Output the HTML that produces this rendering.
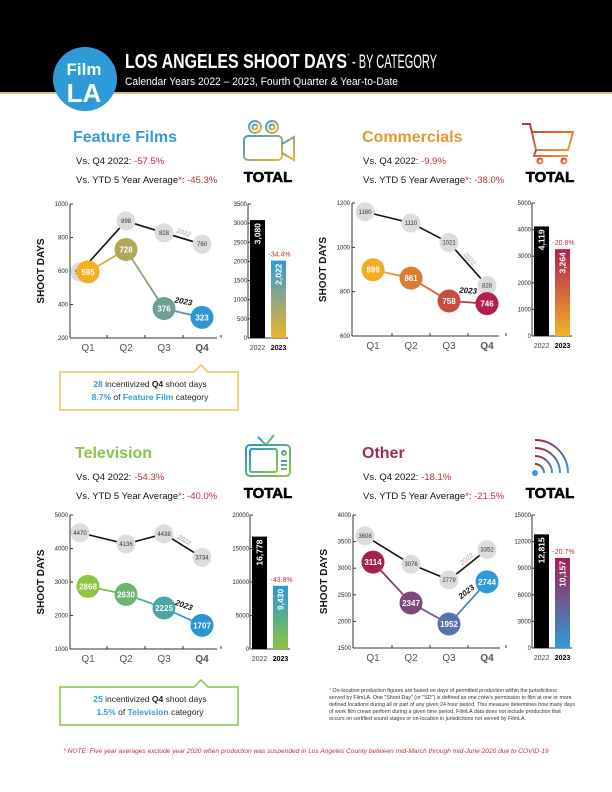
<!DOCTYPE html>
<html><head><meta charset="utf-8">
<style>
body{margin:0;background:#fff;}
svg{display:block;font-family:"Liberation Sans",sans-serif;}
.tk{font-size:6px;fill:#222;text-anchor:end;}
.q{font-size:10px;fill:#555;text-anchor:middle;}
</style></head>
<body>
<svg id="pg" width="612" height="792" viewBox="0 0 612 792" xmlns="http://www.w3.org/2000/svg">
<defs>
<linearGradient id="camG" x1="0" y1="0" x2="1" y2="1"><stop offset="0" stop-color="#3a9ad6"/><stop offset="1" stop-color="#f0b429"/></linearGradient>
<linearGradient id="cartG" x1="0" y1="0" x2="1" y2="1"><stop offset="0" stop-color="#c0294f"/><stop offset="1" stop-color="#f0a030"/></linearGradient>
<linearGradient id="tvG" x1="0" y1="0" x2="1" y2="1"><stop offset="0" stop-color="#2a94d6"/><stop offset="1" stop-color="#8cc63f"/></linearGradient>
<linearGradient id="wifiG" x1="0" y1="0" x2="1" y2="1"><stop offset="0" stop-color="#a61f4f"/><stop offset="1" stop-color="#2f9ad8"/></linearGradient>
</defs>
<rect x="0" y="0" width="612" height="92" fill="#000"/>
<rect x="0" y="92" width="612" height="2" fill="#d8c08a"/>
<g>
<circle cx="85" cy="79" r="32" fill="#2f9ad8"/>
<text x="84" y="75" font-size="17" font-weight="bold" fill="#fff" text-anchor="middle">Film</text>
<text x="84" y="102" font-size="26" font-weight="bold" fill="#fff" text-anchor="middle">LA</text>
</g>
<text x="125" y="68" font-size="20" font-weight="900" fill="#fff" textLength="222" lengthAdjust="spacingAndGlyphs">LOS ANGELES SHOOT DAYS</text>
<text x="347" y="59" font-size="8" fill="#2f9ad8">*</text>
<text x="352" y="68" font-size="19" fill="#fff" textLength="85" lengthAdjust="spacingAndGlyphs">- BY CATEGORY</text>
<text x="125" y="85" font-size="11" fill="#fff" textLength="273" lengthAdjust="spacingAndGlyphs">Calendar Years 2022 – 2023, Fourth Quarter &amp; Year-to-Date</text>

<g>
<text x="73" y="142" font-size="16" font-weight="bold" fill="#3a9ad6">Feature Films</text>
<text x="76" y="164" font-size="9.5" fill="#111">Vs. Q4 2022: <tspan fill="#c0303a">-57.5%</tspan></text>
<text x="76" y="183" font-size="9.5" fill="#111">Vs. YTD 5 Year Average<tspan fill="#c0303a">*</tspan>: <tspan fill="#c0303a">-45.3%</tspan></text>
</g>
<g>
<text x="362" y="142" font-size="16" font-weight="bold" fill="#e8962c">Commercials</text>
<text x="363" y="164" font-size="9.5" fill="#111">Vs. Q4 2022: <tspan fill="#c0303a">-9.9%</tspan></text>
<text x="363" y="183" font-size="9.5" fill="#111">Vs. YTD 5 Year Average<tspan fill="#c0303a">*</tspan>: <tspan fill="#c0303a">-38.0%</tspan></text>
</g>
<g>
<text x="75" y="458" font-size="16" font-weight="bold" fill="#8cc04a">Television</text>
<text x="76" y="480" font-size="9.5" fill="#111">Vs. Q4 2022: <tspan fill="#c0303a">-54.3%</tspan></text>
<text x="76" y="499" font-size="9.5" fill="#111">Vs. YTD 5 Year Average<tspan fill="#c0303a">*</tspan>: <tspan fill="#c0303a">-40.0%</tspan></text>
</g>
<g>
<text x="362" y="458" font-size="16" font-weight="bold" fill="#9b2a5a">Other</text>
<text x="363" y="480" font-size="9.5" fill="#111">Vs. Q4 2022: <tspan fill="#c0303a">-18.1%</tspan></text>
<text x="363" y="499" font-size="9.5" fill="#111">Vs. YTD 5 Year Average<tspan fill="#c0303a">*</tspan>: <tspan fill="#c0303a">-21.5%</tspan></text>
</g>

<g fill="none" stroke="url(#camG)" stroke-width="2">
<circle cx="255" cy="127" r="6"/><circle cx="255" cy="127" r="2.5"/>
<circle cx="272" cy="127" r="6"/><circle cx="272" cy="127" r="2.5"/>
<rect x="244" y="136" width="38" height="24" rx="4"/>
<path d="M282 144 L294 137 L294 160 L282 153"/>
</g>
<text x="268" y="182" font-size="15" font-weight="900" fill="#000" text-anchor="middle" stroke="#000" stroke-width="0.6">TOTAL</text>
<g fill="none" stroke="url(#cartG)" stroke-width="2">
<path d="M522 124 L530 124 L536 150 L568 150 L573 132 L532 132"/>
<path d="M536 150 L534 156 L568 156"/>
<circle cx="540" cy="161" r="2.5"/><circle cx="564" cy="161" r="2.5"/>
</g>
<text x="550" y="182" font-size="15" font-weight="900" fill="#000" text-anchor="middle" stroke="#000" stroke-width="0.6">TOTAL</text>
<g fill="none" stroke="url(#tvG)" stroke-width="2">
<path d="M258 437 L266 445 L274 435"/>
<rect x="246" y="445" width="44" height="31" rx="4"/>
<rect x="250" y="449" width="27" height="23" rx="2"/>
<circle cx="284" cy="453" r="2"/><path d="M281 461 H287 M281 465 H287 M281 469 H287"/>
</g>
<text x="268" y="498" font-size="15" font-weight="900" fill="#000" text-anchor="middle" stroke="#000" stroke-width="0.6">TOTAL</text>
<g fill="none" stroke="url(#wifiG)" stroke-width="2">
<circle cx="535" cy="473" r="3" fill="#2f9ad8" stroke="none"/>
<path d="M535 464 A9 9 0 0 1 544 473"/>
<path d="M535 456 A17 17 0 0 1 552 473"/>
<path d="M535 448 A25 25 0 0 1 560 473"/>
<path d="M535 440 A33 33 0 0 1 568 473"/>
</g>
<text x="550" y="498" font-size="15" font-weight="900" fill="#000" text-anchor="middle" stroke="#000" stroke-width="0.6">TOTAL</text>

<g>
<path d="M60 372 H194 L201 365 L208 372 H238 V410 H60 Z" fill="#fff" stroke="#f0c050" stroke-width="1.5"/>
<text x="150" y="387" font-size="8.5" text-anchor="middle" fill="#222"><tspan fill="#3a9ad6" font-weight="bold">28</tspan> incentivized <tspan font-weight="bold">Q4</tspan> shoot days</text>
<text x="150" y="400" font-size="8.5" text-anchor="middle" fill="#222"><tspan fill="#3a9ad6" font-weight="bold">8.7%</tspan> of <tspan fill="#3a9ad6" font-weight="bold">Feature Film</tspan> category</text>
</g>
<g>
<path d="M60 687 H194 L201 680 L208 687 H238 V725 H60 Z" fill="#fff" stroke="#8cc04a" stroke-width="1.5"/>
<text x="150" y="702" font-size="8.5" text-anchor="middle" fill="#222"><tspan fill="#3a9ad6" font-weight="bold">25</tspan> incentivized <tspan font-weight="bold">Q4</tspan> shoot days</text>
<text x="150" y="715" font-size="8.5" text-anchor="middle" fill="#222"><tspan fill="#3a9ad6" font-weight="bold">1.5%</tspan> of <tspan fill="#3a9ad6" font-weight="bold">Television</tspan> category</text>
</g>

<g font-size="5.3" fill="#333">
<text x="329" y="692"><tspan fill="#2f9ad8">*</tspan> On-location production figures are based on days of permitted production within the jurisdictions</text>
<text x="329" y="699">served by FilmLA. One "Shoot Day" (or "SD") is defined as one crew's permission to film at one or more</text>
<text x="329" y="706">defined locations during all or part of any given 24 hour period. This measure determines how many days</text>
<text x="329" y="713">of work film crews perform during a given time period. FilmLA data does not include production that</text>
<text x="329" y="720">occurs on certified sound stages or on-location in jurisdictions not served by FilmLA.</text>
</g>
<text x="306" y="753" font-size="6.6" font-style="italic" fill="#c0303a" text-anchor="middle">* NOTE: Five year averages exclude year 2020 when production was suspended in Los Angeles County between mid-March through mid-June 2020 due to COVID-19</text>
<g id="charts"></g>
</svg>
<script>
const quarters = ['Q1','Q2','Q3','Q4'];
const years = ['2022','2023'];
const featureTicks = [200,400,600,800,1000];
const feature2022 = [594,898,828,760];
const feature2023 = [595,728,376,323];
const featureTotalTicks = [0,500,1000,1500,2000,2500,3000,3500];
const featureTotals = [3080,2022];
const featureTotalLabels = ['3,080','2,022'];
const featureChange = '-34.4%';

const commTicks = [600,800,1000,1200];
const comm2022 = [1160,1110,1021,828];
const comm2023 = [899,861,758,746];
const commTotalTicks = [0,1000,2000,3000,4000,5000];
const commTotals = [4119,3264];
const commTotalLabels = ['4,119','3,264'];
const commChange = '-20.8%';

const tvTicks = [1000,2000,3000,4000,5000];
const tv2022 = [4470,4136,4438,3734];
const tv2023 = [2868,2630,2225,1707];
const tvTotalTicks = [0,5000,10000,15000,20000];
const tvTotals = [16778,9430];
const tvTotalLabels = ['16,778','9,430'];
const tvChange = '-43.8%';

const otherTicks = [1500,2000,2500,3000,3500,4000];
const other2022 = [3608,3076,2779,3352];
const other2023 = [3114,2347,1952,2744];
const otherTotalTicks = [0,3000,6000,9000,12000,15000];
const otherTotals = [12815,10157];
const otherTotalLabels = ['12,815','10,157'];
const otherChange = '-20.7%';

const NS='http://www.w3.org/2000/svg';
const root=document.getElementById('charts');
function el(tag,attrs,parent,txt){const e=document.createElementNS(NS,tag);for(const k in attrs)e.setAttribute(k,attrs[k]);if(txt!==undefined)e.textContent=txt;(parent||root).appendChild(e);return e;}
function mix(a,b,t){const pa=[1,3,5].map(i=>parseInt(a.substr(i,2),16)),pb=[1,3,5].map(i=>parseInt(b.substr(i,2),16));return 'rgb('+pa.map((v,i)=>Math.round(v+(pb[i]-v)*t)).join(',')+')';}

function draw(id,lay,ticks,d22,d23,tTicks,totals,tLabels,change,c1,c2,barTop,barBot){
  const g=el('g',{});
  
  
  const vMin=ticks[0],vMax=ticks[ticks.length-1];
  const y=v=>lay.yBot-(v-vMin)/(vMax-vMin)*(lay.yBot-lay.yTop);
  const qx=i=>lay.qx0+i*lay.qdx;
  const yt=el('text',{x:0,y:0,transform:`translate(${lay.x0-26},${(lay.yTop+lay.yBot)/2}) rotate(-90)`,'font-size':10,'font-weight':'bold','text-anchor':'middle',fill:'#111'},g,'SHOOT DAYS');
  
  
  el('line',{x1:lay.x0,y1:lay.yTop,x2:lay.x0,y2:lay.yBot,stroke:'#333','stroke-width':1},g);
  el('line',{x1:lay.x0,y1:lay.yBot,x2:lay.x0+4*lay.qdx-5,y2:lay.yBot,stroke:'#333','stroke-width':1},g);
  ticks.forEach(t=>{
    el('line',{x1:lay.x0,y1:y(t),x2:lay.x0+3,y2:y(t),stroke:'#333'},g);
    const tx=el('text',{x:lay.x0-2,y:y(t)+2,class:'tk'},g,t);
    
    
  });
  quarters.forEach((q,i)=>{
    el('line',{x1:qx(i)+lay.qdx/2,y1:lay.yBot,x2:qx(i)+lay.qdx/2,y2:lay.yBot-3,stroke:'#333'},g);
    const t=el('text',{x:qx(i),y:lay.yBot+13,class:'q','font-weight':i==3?'bold':'normal',fill:i==3?'#111':'#555'},g,q);
    
    
  });
  const p22=d22.map((v,i)=>`${qx(i)+(i==0?-8:0)},${y(v)}`).join(' ');
  const l22=el('polyline',{points:p22,fill:'none',stroke:'#111','stroke-width':1.6},g);
  
  
  const gid=id+'LG';
  const lg=el('linearGradient',{id:gid,gradientUnits:'userSpaceOnUse',x1:qx(0),y1:0,x2:qx(3),y2:0},g);
  el('stop',{offset:0,'stop-color':c1},lg);el('stop',{offset:1,'stop-color':c2},lg);
  const p23=d23.map((v,i)=>`${qx(i)},${y(v)}`).join(' ');
  const l23=el('polyline',{points:p23,fill:'none',stroke:`url(#${gid})`,'stroke-width':1.8},g);
  
  
  d22.forEach((v,i)=>{
    const c=el('circle',{cx:qx(i)+(i==0?-8:0),cy:y(v),r:9.5,fill:'#dcdcdc'},g);
    
    
    el('text',{x:qx(i)+(i==0?-8:0),y:y(v)+2,'font-size':6,'text-anchor':'middle',fill:'#333'},g,v);
  });
  d23.forEach((v,i)=>{
    const c=el('circle',{cx:qx(i),cy:y(v),r:11.5,fill:mix(c1,c2,i/3)},g);
    
    
    el('text',{x:qx(i),y:y(v)+3,'font-size':8,'font-weight':'bold','text-anchor':'middle',fill:'#fff'},g,v);
  });
  const a=y(d22[2]),b=y(d22[3]);
  const lbl22=el('text',{x:qx(2)+lay.qdx/2,y:(a+b)/2-4,'font-size':6.5,'font-style':'italic',fill:'#999','text-anchor':'middle',transform:`rotate(${Math.atan2(b-a,lay.qdx)*180/Math.PI},${qx(2)+lay.qdx/2},${(a+b)/2-4})`},g,'2022');
  
  
  const c3=y(d23[2]),c4=y(d23[3]);
  const lbl23=el('text',{x:qx(2)+lay.qdx/2,y:(c3+c4)/2-9,'font-size':8,'font-weight':'bold','font-style':'italic',fill:'#111','text-anchor':'middle',transform:`rotate(${Math.atan2(c4-c3,lay.qdx)*180/Math.PI*0.8},${qx(2)+lay.qdx/2},${(c3+c4)/2-9})`},g,'2023');
  
  
  const tMax=tTicks[tTicks.length-1];
  const yb=v=>lay.yBot-v/tMax*(lay.yBot-lay.yTop);
  el('line',{x1:lay.bx,y1:lay.yTop,x2:lay.bx,y2:lay.yBot,stroke:'#333'},g);
  el('line',{x1:lay.bx,y1:lay.yBot,x2:lay.bx+40,y2:lay.yBot,stroke:'#333'},g);
  tTicks.forEach(t=>{
    el('line',{x1:lay.bx,y1:yb(t),x2:lay.bx+3,y2:yb(t),stroke:'#333'},g);
    const tx=el('text',{x:lay.bx-1,y:yb(t)+2,class:'tk'},g,t);
    
    
  });
  const bg=id+'BG';
  const bgr=el('linearGradient',{id:bg,x1:0,y1:0,x2:0,y2:1},g);
  el('stop',{offset:0,'stop-color':barTop},bgr);el('stop',{offset:1,'stop-color':barBot},bgr);
  totals.forEach((v,i)=>{
    const bx=lay.bx+2+i*21,bw=15;
    const r=el('rect',{x:bx,y:yb(v),width:bw,height:lay.yBot-yb(v),fill:i==0?'#000':`url(#${bg})`},g);
    
    
    const cx=bx+bw/2,cy=yb(v)+3;
    el('text',{x:0,y:0,transform:`translate(${cx+3},${cy}) rotate(-90)`,'font-size':8.5,'font-weight':'bold',fill:'#fff','text-anchor':'end'},g,tLabels[i]);
    const yl=el('text',{x:cx,y:lay.yBot+12,'font-size':7,'text-anchor':'middle',fill:i==1?'#000':'#444','font-weight':i==1?'bold':'normal'},g,years[i]);
    
    
    if(i==1){const ch=el('text',{x:cx+1,y:yb(v)-4,'font-size':7,fill:'#c0303a','text-anchor':'middle'},g,change);
      
      }
  });
}
draw('feature',{x0:70,qx0:88,qdx:38,yTop:204,yBot:338,bx:248},featureTicks,feature2022,feature2023,featureTotalTicks,featureTotals,featureTotalLabels,featureChange,'#f2b01e','#2e96d3','#2f9ad8','#f0b429');
draw('commercials',{x0:352,qx0:373,qdx:38,yTop:203,yBot:336,bx:532},commTicks,comm2022,comm2023,commTotalTicks,commTotals,commTotalLabels,commChange,'#f0ac22','#b21e4e','#b21e4e','#f0b429');
draw('television',{x0:70,qx0:88,qdx:38,yTop:515,yBot:649,bx:250},tvTicks,tv2022,tv2023,tvTotalTicks,tvTotals,tvTotalLabels,tvChange,'#8cc63f','#2a94d6','#2a94d6','#8cc63f');
draw('other',{x0:353,qx0:373,qdx:38,yTop:515,yBot:648,bx:532},otherTicks,other2022,other2023,otherTotalTicks,otherTotals,otherTotalLabels,otherChange,'#a61f4f','#2f9ad8','#a61f4f','#2f9ad8');
</script>
</body></html>
